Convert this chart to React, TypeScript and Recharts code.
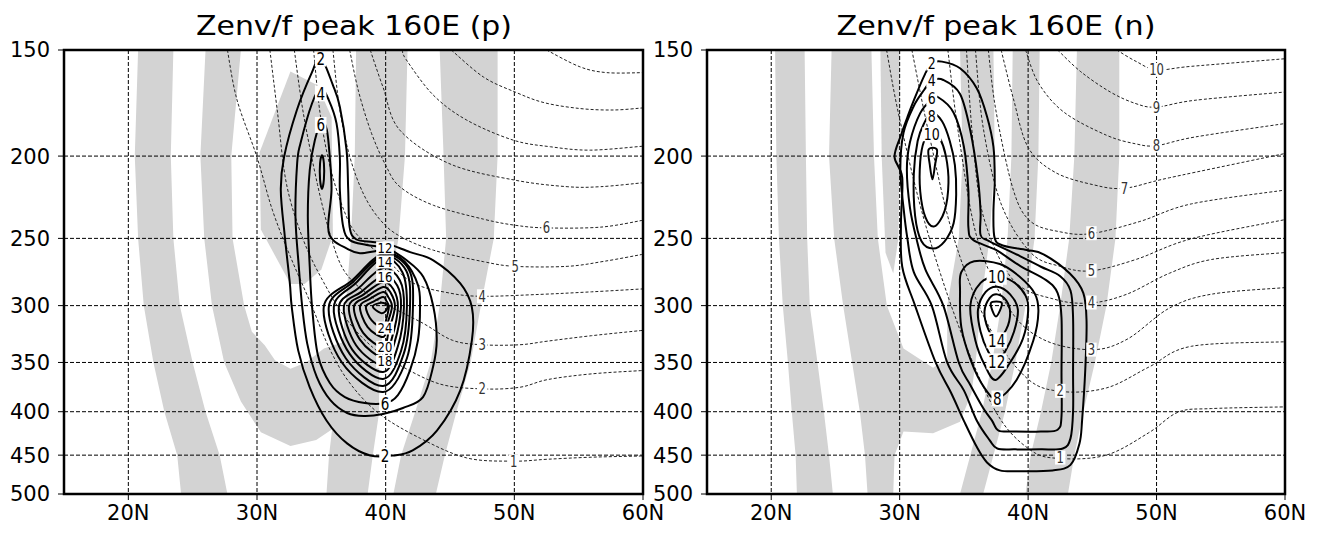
import React from 'react';
import { ScatterChart, Scatter, XAxis, YAxis } from 'recharts';

type Pair = [number, number];
type Lab = [number, number, string, string];

// ---------- axes ----------
const X_TICKS = [20, 30, 40, 50, 60];
const Y_TICKS = [150, 200, 250, 300, 350, 400, 450, 500];
const X_DOMAIN: [number, number] = [15, 60];
const Y_DOMAIN: [number, number] = [150, 500];

const GRAY = '#d3d3d3';

// ---------- panel 1 (p) : shading ----------
const P1_GRAY_A: Pair[] = [[20.76,150],[20.5,200],[20.76,250],[21.2,300],[21.95,350],[22.8,400],[23.8,450],[24.1,500],[27.7,500],[27.1,450],[26.0,400],[25.0,350],[24.0,300],[23.5,250],[23.3,200],[23.5,150]];
const P1_GRAY_BU: Pair[] = [[26.0,150],[25.6,200],[25.9,250],[26.5,300],[27.45,350],[28.75,389],[30.3,423],[32.6,439],[34.6,432],[36.3,415],[37.0,380],[37.0,330],[35.2,337],[33.8,350],[32.6,356],[31.4,348],[30.6,334],[29.6,322],[29.0,300],[28.1,250],[28.0,200],[28.75,150]];
const P1_GRAY_WEDGE: Pair[] = [[32.6,159],[34.7,165],[35.8,180],[35.9,248],[35.0,272],[33.7,283],[32.6,283],[30.3,244],[30.2,198]];
const P1_GRAY_C: Pair[] = [[37.7,150],[37.6,200],[37.3,250],[36.9,300],[36.5,350],[36.0,400],[35.6,450],[35.4,500],[38.6,500],[39.0,450],[39.5,400],[39.5,350],[40.0,300],[41.0,250],[41.5,200],[41.7,150]];
const P1_GRAY_D: Pair[] = [[44.2,150],[44.5,200],[44.7,250],[44.2,300],[43.5,350],[42.3,400],[41.2,450],[40.6,500],[43.9,500],[44.6,450],[45.5,400],[46.6,350],[47.4,300],[48.4,250],[48.7,200],[48.7,150]];

// ---------- panel 1 : solid contours (closed) ----------
const P1_C2: Pair[] = [[34.94,153],[35.9,165],[36.44,175],[36.96,196.8],[37.09,219.4],[37.2,242.5],[37.7,250.6],[39.0,252.4],[40.1,253.6],[41.9,259.5],[43.7,265.3],[45.8,282.4],[46.7,301.3],[46.7,329.6],[45.8,377.5],[44.0,420.8],[42.1,444.3],[40.6,450.4],[38.8,450.4],[37.0,435.9],[35.4,409.6],[34.1,374.4],[33.2,338.7],[32.7,301],[32.55,282],[32.16,248.6],[31.85,219.4],[32.1,200.6],[33.1,176.5],[34.26,159.5]];
const P1_C4: Pair[] = [[34.96,166.3],[35.58,171.8],[36.18,183],[36.44,200.9],[36.44,219.4],[36.7,242.2],[37.22,251.2],[38.52,254.5],[40.07,256.8],[41.63,265.3],[42.92,277.4],[43.7,300.5],[43.97,329.6],[43.68,354.3],[42.9,384.4],[41.34,396],[39.79,402.5],[38.31,404.7],[37.01,401.4],[35.72,387.9],[34.65,364.1],[33.9,332.3],[33.51,300.5],[33.25,270],[32.99,235.7],[33.12,204],[33.38,193.2],[34.28,173.3]];
const P1_C6: Pair[] = [[35.02,182.3],[35.43,186.3],[35.66,200.9],[35.79,219.4],[35.53,242.2],[35.92,251.2],[36.96,256.8],[38.0,260.3],[39.94,258.7],[41.5,266.5],[42.51,283.7],[42.67,301.1],[42.51,329.6],[41.89,357.6],[40.95,382.3],[39.94,390.7],[38.38,390.7],[36.83,384.4],[35.66,370],[34.73,343],[34.28,301.1],[34.1,270.2],[33.95,235.3],[34.1,207.7],[34.5,191.5]];
const P1_C8U: Pair[] = [[35.05,199.6],[35.2,204],[35.2,213],[35.05,218.6],[34.9,213],[34.9,204]];
const P1_C8: Pair[] = [[35.19,301],[37.4,280],[39.8,260.8],[41.8,272],[42.12,301],[41.65,346],[39.8,379.2],[36.6,350]];
const P1_C10: Pair[] = [[35.58,301],[37.5,281],[39.8,262.2],[41.6,273],[41.89,301],[41.4,342],[39.8,373.1],[36.9,346]];
const P1_C12: Pair[] = [[35.97,301],[37.7,282],[39.8,263.7],[41.3,274],[41.65,301],[41.2,339],[39.8,366],[37.2,342]];
const P1_C14: Pair[] = [[36.36,301],[37.9,286],[39.8,270.9],[41.1,280],[41.42,301],[40.95,335],[39.8,359.2],[37.4,338]];
const P1_C16: Pair[] = [[36.75,301],[38.1,289],[39.8,276.8],[40.9,284],[41.19,301],[40.7,331],[39.8,352.4],[37.7,334]];
const P1_C18: Pair[] = [[37.14,301],[38.3,291],[39.8,281.4],[40.6,287],[40.95,301],[40.5,327],[39.8,344.9],[38.0,329]];
const P1_C20: Pair[] = [[37.53,301],[38.5,293],[39.8,285.2],[40.4,290],[40.72,301],[40.25,321],[39.8,335.6],[38.25,323]];
const P1_C22: Pair[] = [[38.0,301],[38.7,295],[39.8,289.1],[40.2,293],[40.49,301],[40.1,316],[39.8,326.7],[38.6,318]];
const P1_C24: Pair[] = [[38.46,301],[39.0,297],[39.8,293.1],[40.05,296],[40.25,301],[40.05,311],[39.8,318.8],[38.9,312]];
const P1_C26: Pair[] = [[39.0,301],[39.5,298],[40.0,298.5],[40.15,301],[39.95,305],[39.6,306]];

// ---------- panel 1 : dashed contours (open) ----------
const P1_D1: Pair[] = [[27.7,150],[28.45,171.8],[30.0,200.6],[31.2,231.6],[32.6,262.8],[34.2,298.8],[35.7,338.7],[37.3,371.6],[39.55,402.7],[42.7,430],[46.3,453.4],[49.9,457.4],[52.6,455],[56,452.5],[60,451]];
const P1_D2: Pair[] = [[31.0,150],[31.6,178],[32.3,216],[33.6,251],[35.2,282],[37.0,312],[39.0,336],[41.0,352],[44.2,371],[47.5,376],[50.4,374.4],[52.6,366.6],[56,361],[60,357.7]];
const P1_D3: Pair[] = [[32.9,150],[33.6,178],[34.7,216],[35.7,247.7],[36.75,272.6],[38.5,290],[40.3,300.5],[42.9,314.7],[45.2,329.6],[47.5,333.6],[50.4,333.6],[52.6,330.3],[56,325.5],[60,320.8]];
const P1_D4: Pair[] = [[34.4,150],[34.9,178],[35.7,206.4],[36.75,231.6],[37.8,247.7],[40.0,264],[42.1,282],[45.0,290],[47.5,292.5],[52.0,291],[56.0,289],[60,286.7]];
const P1_D5: Pair[] = [[35.9,150],[36.4,175],[37.2,200],[38.3,222],[39.6,238],[41.1,248.5],[43.7,258.1],[47.6,266.3],[50.06,269.7],[54.1,269.7],[57,266],[60,261]];
const P1_D6: Pair[] = [[37.2,150],[37.9,168],[38.9,188],[40.0,205],[41.1,217.3],[43.7,228.5],[47.6,237.3],[50.1,241.3],[52.5,243],[56.7,242.5],[60,238]];
const P1_D7: Pair[] = [[38.8,150],[39.8,166],[41.1,186.4],[45.0,204.3],[50.06,213.5],[54.1,217.3],[56.7,217.3],[60,215]];
const P1_D8: Pair[] = [[41.3,150],[41.6,154],[43.7,169.5],[46.3,181.4],[49.9,191.5],[52.8,195],[55.9,196.8],[60,194.7]];
const P1_D9: Pair[] = [[45.1,150],[47.6,161.4],[50.06,168.1],[52.3,173],[55.1,175.8],[57.7,176.5],[60,175.5]];
const P1_D10: Pair[] = [[52.5,150],[55.1,157],[57.2,159.5],[60,159.5]];

// ---------- panel 1 : labels [lat, p, text, kind] (s = solid, t = solid stacked, c = solid crowded, d = dashed) ----------
const P1_LABELS: Lab[] = [
  [34.95,153.5,'2','s'],[34.95,168.7,'4','s'],[34.95,183.8,'6','s'],
  [39.95,256.5,'12','c'],[39.95,266.5,'14','c'],[39.95,277.5,'16','c'],
  [39.95,349,'18','c'],[39.95,336,'20','c'],[39.95,318.8,'24','c'],
  [39.95,390.7,'6','s'],[39.95,450.4,'2','s'],
  [52.5,243,'6','d'],[50.06,269.7,'5','d'],[47.5,292.5,'4','d'],[47.5,333.6,'3','d'],[47.5,376,'2','d'],[49.95,457.5,'1','d'],
];

// ---------- panel 2 (n) : shading ----------
const P2_GRAY_A: Pair[] = [[20.3,150],[20.4,200],[20.6,250],[20.9,300],[21.3,350],[21.6,400],[21.9,450],[22.0,500],[24.8,500],[24.5,450],[24.1,400],[23.6,350],[23.0,300],[22.8,250],[22.7,200],[22.6,150]];
const P2_GRAY_BU: Pair[] = [[24.7,150],[24.5,200],[24.9,250],[25.6,300],[26.3,350],[26.9,400],[27.3,450],[27.5,500],[29.5,500],[29.6,450],[30.3,422],[32.6,424],[34.7,411],[35.6,380],[36.0,340],[36.3,300],[37.0,250],[37.4,200],[37.3,150],[34.7,150],[34.9,200],[34.6,250],[33.7,300],[33.7,347],[32.6,355],[30.3,337],[29.0,300],[28.3,250],[28.0,200],[27.8,150]];
const P2_GRAY_S: Pair[] = [[28.5,150],[30.0,150],[30.0,200],[29.9,250],[29.5,275],[28.9,260],[28.6,200]];
const P2_GRAY_C: Pair[] = [[38.8,150],[38.7,200],[38.4,250],[37.9,300],[37.2,350],[36.4,400],[35.5,450],[34.7,500],[36.5,500],[37.3,450],[38.2,400],[39.0,350],[39.8,300],[40.5,250],[40.8,200],[40.9,150]];
const P2_GRAY_D: Pair[] = [[43.8,150],[43.6,200],[43.2,250],[42.5,300],[41.8,350],[41.0,400],[40.2,450],[39.8,500],[43.1,500],[43.6,450],[44.3,400],[45.2,350],[46.1,300],[46.8,250],[47.1,200],[47.1,150]];

// ---------- panel 2 : solid contours (closed) ----------
const P2_C2: Pair[] = [[32.5,155.5],[33.3,154.8],[34.7,157.6],[36.0,166.4],[36.8,179.6],[37.3,195],[37.4,213.5],[37.3,233],[37.4,250],[38.1,255],[39.9,258],[41.2,261],[43.25,275],[44.3,290],[44.55,313],[44.45,357],[44.2,410],[44.0,436],[43.3,462],[41.9,469],[39.4,470],[37.8,469],[36.8,459],[36.0,440],[35.0,410],[34.0,380],[32.8,350],[31.2,300],[30.2,270],[30.1,240],[30.2,212],[29.6,200.5],[30.1,189],[30.6,180],[31.1,172],[31.9,161]];
const P2_C4: Pair[] = [[32.5,163],[33.4,162.7],[34.7,169],[35.5,186.6],[36.1,213],[36.3,233],[36.3,247.7],[37.0,252],[39.4,262.5],[41.0,270],[42.5,277],[43.3,288],[43.5,310],[43.5,360],[43.5,400],[43.3,430],[42.7,442],[41.0,443],[39.0,443],[37.6,442],[37.0,432],[36.0,409.6],[35.0,377.5],[33.7,350],[32.5,300],[31.1,274],[30.6,250],[30.3,230],[30.05,207.6],[30.3,187.8],[31.1,174.6],[31.9,167.2]];
const P2_C6: Pair[] = [[32.5,171.6],[33.0,170.5],[34.2,177.8],[35.0,195],[35.35,219.5],[35.35,242.5],[35.7,251],[37.5,258],[39.4,269.5],[41.4,280],[42.3,290],[42.6,310],[42.6,360],[42.6,405],[42.3,420],[41.0,422],[39.0,422],[37.7,421],[37.2,410],[36.5,396],[35.5,372],[34.6,350],[33.4,300],[32.0,272],[31.3,250],[30.8,230],[30.56,207.6],[30.8,192.6],[31.6,178]];
const P2_C8U: Pair[] = [[32.5,178],[33.3,182],[33.9,192],[34.3,205],[34.4,222],[34.2,240],[33.5,252],[32.6,257],[31.7,252],[31.2,235],[31.1,210],[31.4,192],[31.9,183]];
const P2_C10U: Pair[] = [[32.5,186],[33.1,190],[33.6,200],[33.8,215],[33.5,232],[32.7,242],[32.0,236],[31.6,220],[31.6,203],[31.9,192]];
const P2_C12U: Pair[] = [[32.25,196.5],[32.9,196.5],[32.75,205],[32.55,213],[32.35,205]];
const P2_C8L: Pair[] = [[34.7,288],[34.8,274],[35.8,266],[37.8,268],[39.3,277],[40.5,290],[40.8,305],[40.4,330],[39.1,367],[37.6,386],[36.6,375],[35.6,350],[34.8,318]];
const P2_C10L: Pair[] = [[35.5,300],[36.3,282],[37.55,277.4],[38.8,281],[39.8,292],[40.0,305],[39.6,328],[38.6,350],[37.45,367],[36.6,352],[35.9,330]];
const P2_C12L: Pair[] = [[36.1,303],[36.7,289],[37.6,285],[38.6,291],[39.2,303],[38.9,322],[38.2,340],[37.55,349],[36.9,340],[36.3,322]];
const P2_C14L: Pair[] = [[36.6,305],[37.0,294],[37.6,291],[38.3,296],[38.6,306],[38.3,320],[37.55,329.6],[36.9,320]];
const P2_C16L: Pair[] = [[37.1,298],[37.95,298],[37.5,309]];

// ---------- panel 2 : dashed contours (open) ----------
const P2_D1: Pair[] = [[28.98,150],[29.97,180],[31.94,238.8],[34.57,316.5],[37.5,400.4],[40.16,443.6],[42.5,454.1],[46.1,449.9],[49.4,423.4],[51.7,400.4],[54.3,396.6],[60,394.8]];
const P2_D2: Pair[] = [[30.95,150],[32.3,189],[34.24,250.3],[36.9,316.5],[39.84,364.5],[42.5,378.5],[46.1,375],[49.4,354.4],[52.7,335],[60,330.9]];
const P2_D3: Pair[] = [[33.75,150],[34.6,189],[36.05,250.3],[38.5,302],[41.15,328.7],[44.9,338.1],[47.7,328.7],[51.0,302],[54.3,290.8],[60,285.7]];
const P2_D4: Pair[] = [[35.2,150],[35.7,191.7],[36.55,236.5],[38.85,280],[42.1,295],[44.9,297.8],[47.7,290.8],[51.0,274.8],[54.3,264.7],[60,259.8]];
const P2_D5: Pair[] = [[35.9,150],[36.5,185],[37.9,227.7],[40.2,259.8],[42.5,269.7],[44.9,273],[48.4,264.7],[52.7,250.3],[60,237.6]];
const P2_D6: Pair[] = [[36.9,150],[37.5,177],[38.85,219.3],[40.2,238.8],[42.5,245.6],[44.9,246.8],[48.7,238.8],[52.7,227.7],[60,219.3]];
const P2_D7: Pair[] = [[37.9,150],[38.85,171.1],[40.0,195.3],[42.1,209],[45.1,216.2],[47.5,218.2],[51.0,212.1],[60,198.6]];
const P2_D8: Pair[] = [[39.8,150],[40.8,164],[42.8,177.6],[46.1,189],[48.4,193.5],[50.0,194.4],[53.0,189.9],[60,183.1]];
const P2_D9: Pair[] = [[42.3,150],[44.1,159.1],[46.4,168.1],[48.4,173.5],[50.0,175.1],[53.0,171.9],[60,168.1]];
const P2_D10: Pair[] = [[46.9,150],[48.4,154.7],[50.0,158.3],[52.7,156.8],[60,153.6]];

const P2_LABELS: Lab[] = [
  [32.5,155.6,'2','t'],[32.5,163.0,'4','t'],[32.5,171.2,'6','t'],[32.5,179.6,'8','t'],[32.5,188.5,'10','t'],
  [37.55,277.4,'10','s'],[37.55,329.6,'14','s'],[37.55,349,'12','s'],[37.6,386,'8','s'],
  [50.0,158.3,'10','d'],[50.0,175.1,'9','d'],[50.0,194.4,'8','d'],[47.5,218.2,'7','d'],[44.93,246.5,'6','d'],
  [44.93,272.8,'5','d'],[44.93,297.5,'4','d'],[44.93,338,'3','d'],[42.5,378,'2','d'],[42.5,453,'1','d'],
];

// ---------- helpers ----------
const pts = (a: Pair[]) => a.map(([lat, p]) => ({ lat, p }));

function catmull(closed: boolean) {
  return (context: any) => {
    let q: number[][] = [];
    return {
      areaStart() {},
      areaEnd() {},
      lineStart() { q = []; },
      point(x: number, y: number) { q.push([+x, +y]); },
      lineEnd() {
        const n = q.length;
        if (!n) return;
        context.moveTo(q[0][0], q[0][1]);
        if (n < 3) {
          for (let i = 1; i < n; i++) context.lineTo(q[i][0], q[i][1]);
          if (closed) context.closePath();
          return;
        }
        const g = (i: number) => (closed ? q[(i + n) % n] : q[Math.max(0, Math.min(n - 1, i))]);
        const segs = closed ? n : n - 1;
        for (let i = 0; i < segs; i++) {
          const a = g(i - 1), b = g(i), c = g(i + 1), d = g(i + 2);
          context.bezierCurveTo(
            b[0] + (c[0] - a[0]) / 6, b[1] + (c[1] - a[1]) / 6,
            c[0] - (d[0] - b[0]) / 6, c[1] - (d[1] - b[1]) / 6,
            c[0], c[1]
          );
        }
        if (closed) context.closePath();
      },
    };
  };
}
const CR_CLOSED = catmull(true);
const CR_OPEN = catmull(false);

const NoShape = () => <g />;

const LABEL_STYLE: Record<string, { fs: number; cw: number; h: number; fill: string }> = {
  s: { fs: 17, cw: 8.6, h: 13, fill: '#000' },
  t: { fs: 15, cw: 8.0, h: 11, fill: '#000' },
  c: { fs: 14, cw: 7.4, h: 10, fill: '#000' },
  d: { fs: 15, cw: 7.4, h: 11, fill: '#333' },
};

const LabelShape = (props: any) => {
  const { cx, cy, payload } = props;
  if (cx == null || cy == null) return <g />;
  const t = String(payload.t);
  const st = LABEL_STYLE[payload.k] || LABEL_STYLE.s;
  const w = t.length * st.cw;
  const h = st.h;
  return (
    <g>
      <rect x={cx - w / 2 - 1.5} y={cy - h / 2 - 1.5} width={w + 3} height={h + 3} fill="#fff" />
      <text x={cx} y={cy + h / 2} textAnchor="middle" fontSize={st.fs} fontFamily="DejaVu Sans"
        textLength={w} lengthAdjust="spacingAndGlyphs" fill={st.fill}>{t}</text>
    </g>
  );
};

type PanelCfg = {
  title: string;
  gray: Pair[][];
  solid: Pair[][];
  dashed: Pair[][];
  labels: Lab[];
};

const PANEL1: PanelCfg = {
  title: 'Zenv/f peak 160E (p)',
  gray: [P1_GRAY_A, P1_GRAY_BU, P1_GRAY_WEDGE, P1_GRAY_C, P1_GRAY_D],
  solid: [P1_C2, P1_C4, P1_C6, P1_C8U, P1_C8, P1_C10, P1_C12, P1_C14, P1_C16, P1_C18, P1_C20, P1_C22, P1_C24, P1_C26],
  dashed: [P1_D1, P1_D2, P1_D3, P1_D4, P1_D5, P1_D6, P1_D7, P1_D8, P1_D9, P1_D10],
  labels: P1_LABELS,
};
const PANEL2: PanelCfg = {
  title: 'Zenv/f peak 160E (n)',
  gray: [P2_GRAY_A, P2_GRAY_BU, P2_GRAY_S, P2_GRAY_C, P2_GRAY_D],
  solid: [P2_C2, P2_C4, P2_C6, P2_C8U, P2_C10U, P2_C12U, P2_C8L, P2_C10L, P2_C12L, P2_C14L, P2_C16L],
  dashed: [P2_D1, P2_D2, P2_D3, P2_D4, P2_D5, P2_D6, P2_D7, P2_D8, P2_D9, P2_D10],
  labels: P2_LABELS,
};

const tickStyle = { fill: '#000', fontSize: 21, fontFamily: 'DejaVu Sans' };

function Panel({ cfg, left, width }: { cfg: PanelCfg; left: number; width: number }) {
  const gridV = X_TICKS.filter((t) => t > X_DOMAIN[0] && t < X_DOMAIN[1]).map((t) => [{ lat: t, p: Y_DOMAIN[0] }, { lat: t, p: Y_DOMAIN[1] }]);
  const gridH = Y_TICKS.filter((t) => t > Y_DOMAIN[0] && t < Y_DOMAIN[1]).map((t) => [{ lat: X_DOMAIN[0], p: t }, { lat: X_DOMAIN[1], p: t }]);
  const frame = [
    { lat: X_DOMAIN[0], p: Y_DOMAIN[0] }, { lat: X_DOMAIN[1], p: Y_DOMAIN[0] },
    { lat: X_DOMAIN[1], p: Y_DOMAIN[1] }, { lat: X_DOMAIN[0], p: Y_DOMAIN[1] },
  ];
  const labels = cfg.labels.map(([lat, p, t, k]) => ({ lat, p, t, k }));
  return (
    <div style={{ position: 'absolute', left, top: 0 }}>
      <ScatterChart width={width} height={535} margin={{ top: 50, right: 20, bottom: 11, left: 0 }}>
        <XAxis type="number" dataKey="lat" domain={X_DOMAIN} ticks={X_TICKS} interval={0}
          tickFormatter={(v: number) => `${v}N`} axisLine={false} tickLine={{ stroke: '#000' }}
          tickSize={6} tickMargin={5} height={30} tick={tickStyle} />
        <YAxis type="number" dataKey="p" scale="log" domain={Y_DOMAIN} ticks={Y_TICKS} interval={0}
          reversed axisLine={false} tickLine={{ stroke: '#000' }} tickSize={6} tickMargin={8}
          width={64} tick={tickStyle} />
        {cfg.gray.map((g, i) => (
          <Scatter key={'g' + i} data={pts(g)} line={{ stroke: 'none', fill: GRAY }} lineJointType="linearClosed"
            shape={NoShape} isAnimationActive={false} legendType="none" />
        ))}
        {[...gridV, ...gridH].map((g, i) => (
          <Scatter key={'r' + i} data={g} line={{ stroke: '#000', strokeWidth: 1, strokeDasharray: '4 2', fill: 'none' }}
            lineJointType="linear" shape={NoShape} isAnimationActive={false} legendType="none" />
        ))}
        {cfg.dashed.map((g, i) => (
          <Scatter key={'d' + i} data={pts(g)} line={{ stroke: '#222', strokeWidth: 1, strokeDasharray: '3 2', fill: 'none' }}
            lineJointType={CR_OPEN as any} shape={NoShape} isAnimationActive={false} legendType="none" />
        ))}
        {cfg.solid.map((g, i) => (
          <Scatter key={'s' + i} data={pts(g)} line={{ stroke: '#000', strokeWidth: 2, fill: 'none', strokeLinejoin: 'round' }}
            lineJointType={CR_CLOSED as any} shape={NoShape} isAnimationActive={false} legendType="none" />
        ))}
        <Scatter data={labels} shape={LabelShape} isAnimationActive={false} legendType="none" />
        <Scatter data={frame} line={{ stroke: '#000', strokeWidth: 2.5, fill: 'none' }} lineJointType="linearClosed"
          shape={NoShape} isAnimationActive={false} legendType="none" />
      </ScatterChart>
    </div>
  );
}

export default function App() {
  return (
    <div style={{ position: 'absolute', left: 0, top: 0, width: 1326, height: 535, background: '#fff', overflow: 'hidden' }}>
      <Panel cfg={PANEL1} left={0} width={663} />
      <Panel cfg={PANEL2} left={643} width={662} />
      <svg width={1326} height={48} style={{ position: 'absolute', left: 0, top: 0 }}>
        <text x={354} y={35} textAnchor="middle" fontSize={27} fontFamily="DejaVu Sans" textLength={316} lengthAdjust="spacingAndGlyphs" fill="#000">{PANEL1.title}</text>
        <text x={996} y={35} textAnchor="middle" fontSize={27} fontFamily="DejaVu Sans" textLength={319} lengthAdjust="spacingAndGlyphs" fill="#000">{PANEL2.title}</text>
      </svg>
    </div>
  );
}
